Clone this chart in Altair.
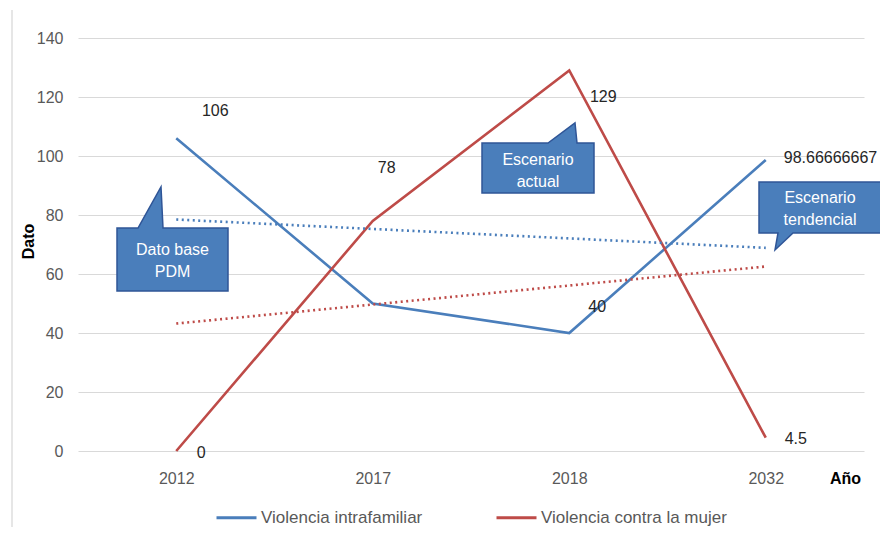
import altair as alt
import pandas as pd

# ---- data ----
years = ["2012", "2017", "2018", "2032"]
series_names = ["Violencia intrafamiliar", "Violencia contra la mujer"]
intrafamiliar = [106, 50, 40, 98.66666667]
contra_mujer = [0, 78, 129, 4.5]
y_ticks = [0, 20, 40, 60, 80, 100, 120, 140]
colors = ["#4a7ebb", "#be4b48"]

rows = []
for s, vals in zip(series_names, [intrafamiliar, contra_mujer]):
    for i, (yr, v) in enumerate(zip(years, vals)):
        rows.append({"idx": i + 1, "year": yr, "serie": s, "valor": v, "texto": str(v)})
df = pd.DataFrame(rows)

FONT = "Liberation Sans"
GRAY = "#595959"

year_expr = "[" + ",".join("'%s'" % y for y in years) + "][datum.value - 1]"

x_enc = alt.X(
    "idx:Q",
    scale=alt.Scale(domain=[0.5, len(years) + 0.5]),
    axis=alt.Axis(
        values=list(range(1, len(years) + 1)), labelExpr=year_expr, title="Año",
        grid=False, ticks=False, domain=False, labelPadding=19,
        labelFontSize=16, labelColor=GRAY, labelFont=FONT,
        titleFont=FONT, titleFontSize=16, titleFontWeight="bold", titleColor="#000000",
        titleX=767, titleY=27, titleAlign="center", titleBaseline="middle",
    ),
)
y_enc = alt.Y(
    "valor:Q",
    scale=alt.Scale(domain=[0, 140]),
    axis=alt.Axis(
        values=y_ticks, title="Dato", grid=True, gridColor="#d9d9d9", gridWidth=1,
        ticks=False, domain=False, labelPadding=15,
        labelFontSize=16, labelColor=GRAY, labelFont=FONT,
        titleFont=FONT, titleFontSize=16, titleFontWeight="bold", titleColor="#000000",
        titleX=-50, titleY=203, titleAlign="center", titleBaseline="middle", titleAngle=270,
    ),
)
color_enc = alt.Color(
    "serie:N",
    scale=alt.Scale(domain=series_names, range=colors),
    legend=alt.Legend(
        title=None, orient="none", direction="horizontal", legendX=137, legendY=458,
        symbolType="stroke", symbolSize=1600, symbolStrokeWidth=3, symbolDash=[1, 0],
        labelFont=FONT, labelFontSize=17, labelColor=GRAY, labelOffset=3, labelLimit=400,
        columnPadding=67, padding=0,
    ),
)

base = alt.Chart(df)

lines = base.mark_line(strokeWidth=2.6).encode(x=x_enc, y=y_enc, color=color_enc)

trend = (
    base.transform_regression("idx", "valor", groupby=["serie"])
    .mark_line(strokeWidth=2.6, strokeDash=[2, 3.5])
    .encode(x="idx:Q", y="valor:Q", color="serie:N")
)


def label(serie, idx, dx, dy, align="center"):
    return (
        base.transform_filter((alt.datum.serie == serie) & (alt.datum.idx == idx))
        .mark_text(dx=dx, dy=dy, align=align, baseline="middle", fontSize=16,
                   font=FONT, color="#262626")
        .encode(x="idx:Q", y="valor:Q", text="texto:N")
    )


labels = [
    label(series_names[0], 1, 39, -27),
    label(series_names[0], 3, 28, -26),
    label(series_names[0], 4, 18, -2, "left"),
    label(series_names[1], 1, 25, 2),
    label(series_names[1], 2, 14, -53),
    label(series_names[1], 3, 34, 27),
    label(series_names[1], 4, 30, 1),
]


def callout(cx, cy, path, text, ty):
    d = alt.Data(values=[{"t": text}])
    box = alt.Chart(d).mark_point(
        shape=path, size=4, filled=True, fill="#4a7ebb", fillOpacity=1, opacity=1,
        stroke="#2f5597", strokeWidth=1.5,
    ).encode(x=alt.value(cx), y=alt.value(cy))
    txt = alt.Chart(d).mark_text(
        color="white", fontSize=16, font=FONT, lineBreak="\n", lineHeight=22,
        align="center", baseline="middle",
    ).encode(x=alt.value(cx), y=alt.value(ty), text="t:N")
    return box + txt


c1 = callout(
    94.5, 221.5,
    "M-55.5,-31.5 L-34.5,-31.5 L-11.5,-72.5 L-9.5,-31.5 L55.5,-31.5 L55.5,31.5 L-55.5,31.5 Z",
    "Dato base\nPDM", 212,
)
c2 = callout(
    460, 130,
    "M-56,-25 L10,-25 L37,-45 L39,-25 L56,-25 L56,25 L-56,25 Z",
    "Escenario\nactual", 122,
)
c3 = callout(
    742, 169.5,
    "M-61,-25.5 L61,-25.5 L61,25.5 L-27,25.5 L-45,42.5 L-42,25.5 L-61,25.5 Z",
    "Escenario\ntendencial", 160,
)

frame = alt.Chart(alt.Data(values=[{}])).mark_rule(color="#dedede", strokeWidth=1.5).encode(
    x=alt.value(-66), y=alt.value(-28), y2=alt.value(489)
)

chart = alt.layer(frame, lines, trend, *labels, c1, c2, c3).properties(
    width=786, height=413,
    autosize=alt.AutoSizeParams(type="none"),
    padding={"left": 70, "top": 30, "right": 16, "bottom": 76},
).configure(background="white").configure_view(stroke=None)

chart.save("out.html", embed_options={"renderer": "svg", "actions": False})
